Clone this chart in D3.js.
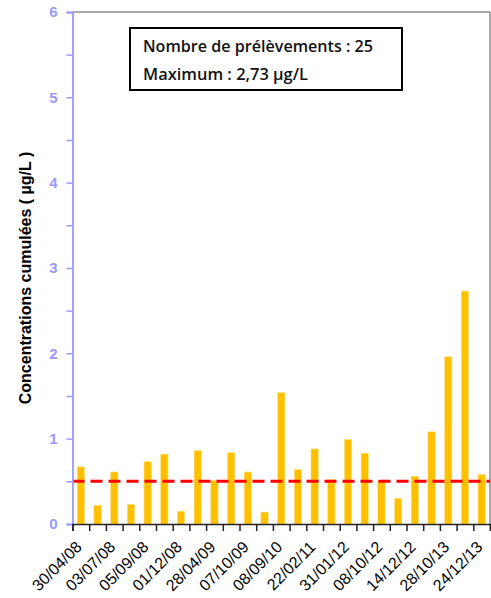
<!DOCTYPE html>
<html>
<head>
<meta charset="utf-8">
<script src="https://cdn.jsdelivr.net/npm/d3@7"></script>
<style>
  html, body { margin: 0; padding: 0; background: #fff; }
  svg { display: block; }
</style>
</head>
<body>
<svg id="chart" width="491" height="598"></svg>
<script>
const categories = ["30/04/08","b2","03/07/08","b4","05/09/08","b6","01/12/08","b8","28/04/09","b10","07/10/09","b12","08/09/10","b14","22/02/11","b16","31/01/12","b18","08/10/12","b20","14/12/12","b22","28/10/13","b24","24/12/13"];
const values = [0.67,0.22,0.61,0.23,0.73,0.82,0.15,0.86,0.51,0.84,0.61,0.14,1.54,0.64,0.88,0.52,0.99,0.83,0.51,0.30,0.56,1.08,1.96,2.73,0.58];
const tickLabels = ["30/04/08","03/07/08","05/09/08","01/12/08","28/04/09","07/10/09","08/09/10","22/02/11","31/01/12","08/10/12","14/12/12","28/10/13","24/12/13"];
const yTicks = [0,1,2,3,4,5,6];
const threshold = [0.5];
const legendLines = ["Nombre de prélèvements : 25", "Maximum : 2,73 µg/L"];
const yTitle = "Concentrations cumulées ( µg/L )";

(function () {
const svg = d3.select("#chart");
const pLeft = 72.5, pRight = 490, pTop = 12, pBottom = 524;

const x = d3.scaleBand().domain(d3.range(categories.length)).range([pLeft, pRight]).paddingInner(0.56).paddingOuter(0.28);
const xb = d3.scaleLinear().domain([0, categories.length]).range([pLeft, pRight]);
const y = d3.scaleLinear().domain([0, 6]).range([pBottom, pTop]);

// frame top/right
svg.append("line").attr("x1", pLeft).attr("x2", pRight).attr("y1", pTop).attr("y2", pTop)
  .attr("stroke", "#8c8c8c").attr("stroke-width", 1.5);
svg.append("line").attr("x1", pRight).attr("x2", pRight).attr("y1", pTop).attr("y2", pBottom)
  .attr("stroke", "#8c8c8c").attr("stroke-width", 1.5);

// bars
svg.append("g").selectAll("rect").data(values).join("rect")
  .attr("x", (d, i) => x(i))
  .attr("width", x.bandwidth())
  .attr("y", d => y(d))
  .attr("height", d => y(0) - y(d))
  .attr("fill", "#FFC000")
  .attr("stroke", "#ffe38a").attr("stroke-width", 0.6);

// threshold line
svg.append("g").selectAll("line").data(threshold).join("line")
  .attr("x1", pLeft).attr("x2", pRight)
  .attr("y1", d => y(d)).attr("y2", d => y(d))
  .attr("stroke", "#FF0000").attr("stroke-width", 3)
  .attr("stroke-dasharray", "12,6");

// y axis
const minor = d3.range(0, 6.01, 0.5);
const yAxis = d3.axisLeft(y).tickValues(minor).tickSize(6)
  .tickFormat(d => yTicks.includes(d) ? d : "");
const gy = svg.append("g").attr("transform", `translate(${pLeft},0)`).call(yAxis);
gy.select(".domain").attr("stroke", "#9999ff").attr("stroke-width", 1.8);
gy.selectAll(".tick line").attr("stroke", "#9999ff").attr("stroke-width", 1.5);
gy.selectAll(".tick text").attr("fill", "#9999ff")
  .attr("font-family", "Liberation Sans, Arial, sans-serif")
  .attr("font-size", 15).attr("font-weight", "bold").attr("x", -15);

// x axis
const xAxis = d3.axisBottom(xb).tickValues(d3.range(0, categories.length + 1)).tickSize(7).tickFormat("");
const gx = svg.append("g").attr("transform", `translate(0,${pBottom})`).call(xAxis);
gx.select(".domain").attr("stroke", "#222").attr("stroke-width", 1.5);
gx.selectAll(".tick line").attr("stroke", "#222").attr("stroke-width", 1.5);

// x labels
svg.append("g").selectAll("text").data(tickLabels).join("text")
  .attr("transform", (d, i) => {
    const idx = i * 2;
    const cx = x(idx) + x.bandwidth() / 2 + 2;
    return `translate(${cx},${pBottom + 24}) rotate(-45)`;
  })
  .attr("text-anchor", "end")
  .attr("font-family", "Liberation Sans, Arial, sans-serif")
  .attr("font-size", 16)
  .attr("fill", "#000")
  .text(d => d);

// y title
svg.append("text")
  .attr("transform", `translate(31,${(pTop + pBottom) / 2 + 10}) rotate(-90)`)
  .attr("text-anchor", "middle")
  .attr("font-family", "Liberation Sans, Arial, sans-serif")
  .attr("font-size", 16).attr("font-weight", "bold")
  .attr("fill", "#000")
  .text(yTitle);

// legend box
svg.append("rect").attr("x", 130).attr("y", 28).attr("width", 272).attr("height", 62)
  .attr("fill", "#fff").attr("stroke", "#000").attr("stroke-width", 2);
const legendWidths = [230, 165];
svg.append("g").selectAll("text").data(legendLines).join("text")
  .attr("x", 143).attr("y", (d, i) => 52 + i * 28)
  .attr("font-family", "'Open Sans', Lato, sans-serif")
  .attr("font-size", 15.5)
  .attr("font-weight", 600)
  .attr("textLength", (d, i) => legendWidths[i])
  .attr("lengthAdjust", "spacingAndGlyphs")
  .attr("fill", "#111")
  .text(d => d);
})();
</script>
</body>
</html>
